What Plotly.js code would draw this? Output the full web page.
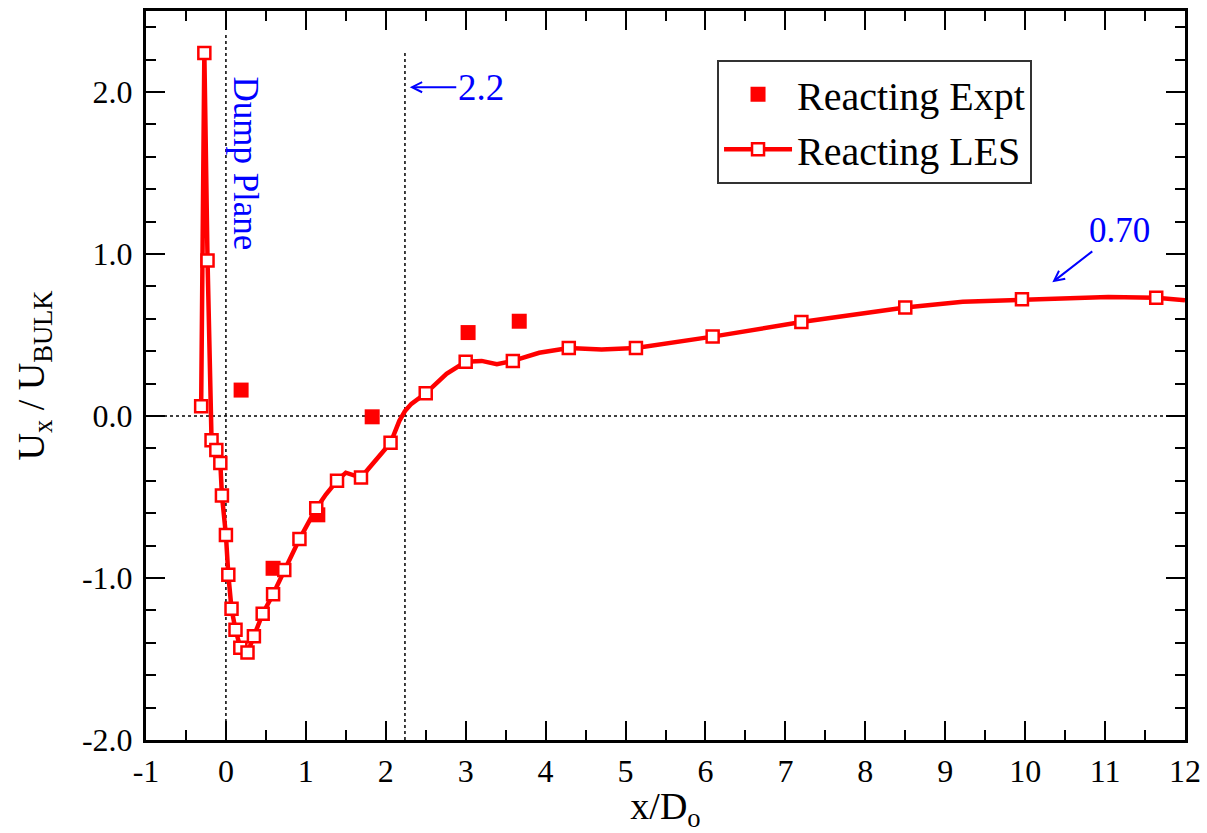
<!DOCTYPE html>
<html>
<head>
<meta charset="utf-8">
<script src="https://cdn.plot.ly/plotly-3.0.1.min.js"></script>
<style>
  html, body { margin: 0; padding: 0; background: #ffffff; }
  #chart { width: 1207px; height: 833px; }
</style>
</head>
<body>
<div id="chart"></div>
<script>
// ---- Data ----
// Experimental data (filled squares)
const exptX = [0.19, 0.59, 1.15, 1.83, 3.03, 3.67];
const exptY = [0.16, -0.94, -0.61, -0.005, 0.515, 0.585];

// LES curve
const lesX = [-0.31, -0.27, -0.23, -0.18, -0.12, -0.07, -0.05, 0.00, 0.03, 0.07,
              0.12, 0.18, 0.27, 0.35, 0.46, 0.59, 0.73, 0.92, 1.13, 1.25,
              1.39, 1.50, 1.69, 2.06, 2.17, 2.24, 2.32, 2.50, 2.76, 3.00,
              3.20, 3.39, 3.59, 3.92, 4.29, 4.70, 5.13, 6.09, 7.20, 7.85,
              8.50, 9.22, 9.96, 10.47, 11.04, 11.64, 12.00];
const lesY = [0.06, 2.24, 0.96, -0.15, -0.21, -0.29, -0.49, -0.735, -0.98, -1.19,
              -1.32, -1.43, -1.46, -1.36, -1.22, -1.10, -0.95, -0.76, -0.57, -0.485,
              -0.40, -0.35, -0.38, -0.165, -0.03, 0.03, 0.075, 0.14, 0.26, 0.335,
              0.34, 0.32, 0.34, 0.39, 0.42, 0.41, 0.42, 0.49, 0.58, 0.625,
              0.67, 0.705, 0.72, 0.73, 0.735, 0.73, 0.715];
// x positions of the LES samples that carry an open-square marker
const lesMarkerX = [-0.31, -0.27, -0.23, -0.18, -0.12, -0.07, -0.05, 0.00, 0.03, 0.07,
                    0.12, 0.18, 0.27, 0.35, 0.46, 0.59, 0.73, 0.92, 1.13, 1.39,
                    1.69, 2.06, 2.50, 3.00, 3.59, 4.29, 5.13, 6.09, 7.20, 8.50,
                    9.96, 11.64];

// Axis ticks
const xTickVals = [-1, 0, 1, 2, 3, 4, 5, 6, 7, 8, 9, 10, 11, 12];
const xTickText = ['-1', '0', '1', '2', '3', '4', '5', '6', '7', '8', '9', '10', '11', '12'];
const yTickVals = [-2, -1, 0, 1, 2];
const yTickText = ['-2.0', '-1.0', '0.0', '1.0', '2.0'];

// Reference lines / labels
const dumpPlaneX = 0;
const reattachX = 2.24;

// ---- Build the chart ----
const FONT = 'Liberation Serif, Times New Roman, serif';
const RED = '#ff0000';
const BLUE = '#0000ff';

const markerSet = new Set(lesMarkerX);
const lesFill = lesX.map(x => markerSet.has(x) ? '#ffffff' : 'rgba(0,0,0,0)');
const lesEdge = lesX.map(x => markerSet.has(x) ? RED : 'rgba(0,0,0,0)');

const traces = [
  {
    x: exptX, y: exptY,
    type: 'scatter', mode: 'markers',
    name: 'Reacting Expt',
    marker: { symbol: 'square', size: 15, color: RED, line: { width: 0 } },
    hoverinfo: 'x+y'
  },
  {
    x: lesX, y: lesY,
    type: 'scatter', mode: 'lines+markers',
    name: 'Reacting LES',
    line: { color: RED, width: 4.5 },
    marker: { symbol: 'square', size: 12, color: lesFill, line: { color: lesEdge, width: 2.5 } },
    hoverinfo: 'x+y'
  }
];

const axisCommon = {
  showline: true, linecolor: '#000', linewidth: 3, mirror: 'ticks',
  ticks: 'inside', ticklen: 19, tickwidth: 2, tickcolor: '#000',
  showgrid: false, zeroline: false,
  tickfont: { family: FONT, size: 32, color: '#000' }
};

const layout = {
  width: 1207, height: 833,
  paper_bgcolor: '#ffffff', plot_bgcolor: '#ffffff',
  margin: { l: 146, r: 22, t: 11, b: 93, autoexpand: false },
  showlegend: true,
  xaxis: Object.assign({}, axisCommon, {
    range: [-1, 12],
    tickmode: 'array', tickvals: xTickVals, ticktext: xTickText,
    minor: { dtick: 0.5, ticks: 'inside', ticklen: 10, tickwidth: 2, tickcolor: '#000' },
    ticklabelstandoff: 1,
    title: { text: 'x/D<sub>o</sub>', font: { family: FONT, size: 38, color: '#000' }, standoff: 22 }
  }),
  yaxis: Object.assign({}, axisCommon, {
    range: [-2, 2.5],
    tickmode: 'array', tickvals: yTickVals, ticktext: yTickText,
    minor: { dtick: 0.2, ticks: 'inside', ticklen: 10, tickwidth: 2, tickcolor: '#000' },
    ticklabelstandoff: 4,
    title: { text: 'U<sub>x</sub> / U<sub>BULK</sub>', font: { family: FONT, size: 38, color: '#000' }, standoff: 26 }
  }),
  legend: {
    x: 0.5496, y: 0.933, xanchor: 'left', yanchor: 'top',
    bgcolor: '#ffffff', bordercolor: '#333333', borderwidth: 2,
    font: { family: FONT, size: 40, color: '#000' },
    itemwidth: 68, tracegroupgap: 0
  },
  shapes: [
    { type: 'line', xref: 'x', yref: 'y', x0: dumpPlaneX, x1: dumpPlaneX, y0: -2, y1: 2.37,
      line: { color: '#000', width: 1.5, dash: 'dot' }, layer: 'below' },
    { type: 'line', xref: 'x', yref: 'y', x0: reattachX, x1: reattachX, y0: -2, y1: 2.26,
      line: { color: '#000', width: 1.5, dash: 'dot' }, layer: 'below' },
    { type: 'line', xref: 'x', yref: 'y', x0: -1, x1: 12, y0: 0, y1: 0,
      line: { color: '#000', width: 1.5, dash: 'dot' }, layer: 'below' }
  ],
  annotations: [
    { xref: 'x', yref: 'y', x: 0.25, y: 1.56, text: 'Dump Plane', textangle: 90,
      showarrow: false, font: { family: FONT, size: 35, color: BLUE } },
    { xref: 'x', yref: 'y', x: 2.30, y: 2.03, text: '2.2',
      showarrow: true, ax: 71, ay: 0, arrowhead: 5, arrowsize: 1, arrowwidth: 2, arrowcolor: BLUE,
      font: { family: FONT, size: 37, color: BLUE } },
    { xref: 'x', yref: 'y', x: 10.34, y: 0.825, text: '0.70',
      showarrow: true, ax: 67, ay: -52, arrowhead: 5, arrowsize: 1, arrowwidth: 2, arrowcolor: BLUE,
      font: { family: FONT, size: 35, color: BLUE } }
  ]
};

Plotly.newPlot('chart', traces, layout, { displayModeBar: false, responsive: false });
</script>
</body>
</html>
